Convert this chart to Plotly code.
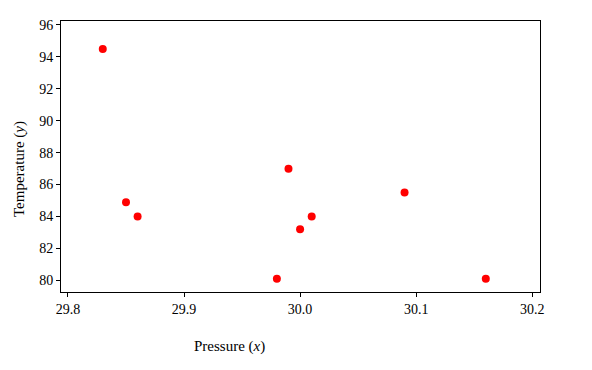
import plotly.graph_objects as go

pressure = [29.83, 29.85, 29.86, 29.98, 29.99, 30.00, 30.01, 30.09, 30.16]
temperature = [94.5, 84.9, 84.0, 80.1, 87.0, 83.2, 84.0, 85.5, 80.1]

x_ticks = [29.8, 29.9, 30.0, 30.1, 30.2]
x_tick_labels = ["29.8", "29.9", "30.0", "30.1", "30.2"]
y_ticks = [80, 82, 84, 86, 88, 90, 92, 94, 96]

FONT = "Liberation Serif"

fig = go.Figure()
fig.add_trace(go.Scatter(
    x=pressure, y=temperature, mode="markers",
    marker=dict(color="#ff0000", size=8, line=dict(width=0)),
    hoverinfo="x+y",
))

axis_common = dict(
    showline=True, linecolor="black", linewidth=1, mirror=True,
    ticks="outside", ticklen=4, tickwidth=1, tickcolor="black",
    showgrid=False, zeroline=False,
    tickfont=dict(family=FONT, size=14, color="black"),
)

fig.update_layout(
    width=592, height=370,
    font=dict(family=FONT, size=14, color="black"),
    margin=dict(l=61, r=52, t=21, b=78),
    paper_bgcolor="white", plot_bgcolor="white",
    showlegend=False,
    xaxis=dict(range=[29.794, 30.2067], tickvals=x_ticks, ticktext=x_tick_labels, **axis_common),
    yaxis=dict(range=[79.27, 96.25], tickvals=y_ticks, **axis_common),
    annotations=[
        dict(text="Pressure (<i>x</i>)", xref="paper", yref="paper",
             x=(229 - 61) / 479, y=-(346 - 292) / 271, xanchor="center", yanchor="middle",
             showarrow=False, font=dict(family=FONT, size=15, color="black")),
        dict(text="Temperature (<i>y</i>)", xref="paper", yref="paper",
             x=-(61 - 20) / 479, y=(292 - 169) / 271, xanchor="center", yanchor="middle",
             textangle=-90, showarrow=False, font=dict(family=FONT, size=15, color="black")),
    ],
)

fig.write_html("out.html")
